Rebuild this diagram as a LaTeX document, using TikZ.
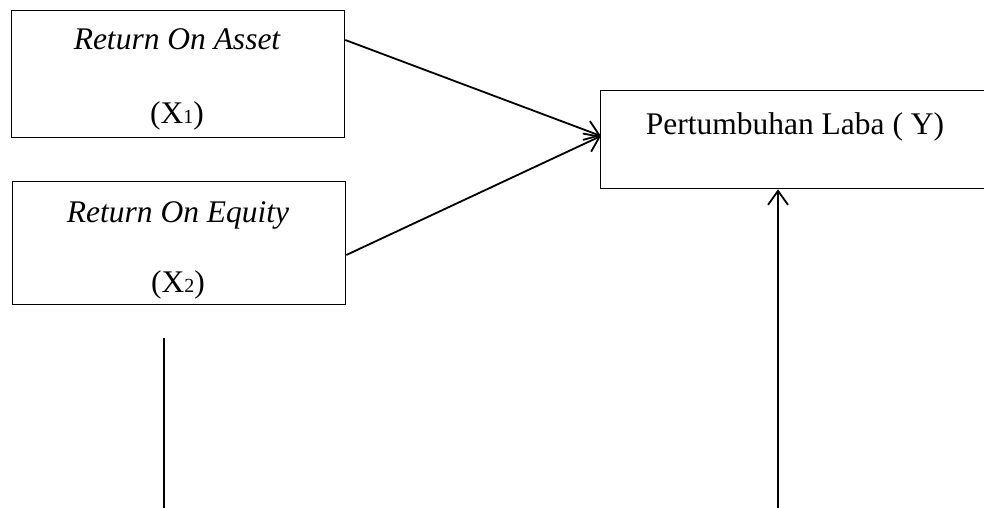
\documentclass[tikz,border=0pt]{standalone}
\usepackage{fontspec}
\setmainfont{Liberation Serif}
\usetikzlibrary{arrows.meta}
\begin{document}
\begin{tikzpicture}[x=1pt,y=-1pt,
  varbox/.style={draw,line width=1.3pt,rectangle,inner sep=0pt,anchor=north west},
  lbl/.style={inner sep=0pt,anchor=base,font=\fontsize{31.5}{31.5}\selectfont},
  idx/.style={},
  link/.style={line width=1.8pt,-{Straight Barb[length=14pt,width=20pt,line width=1.8pt]}}]
  \useasboundingbox (0,0) rectangle (984,508);
  % independent variable boxes
  \node[varbox,minimum width=333pt,minimum height=127pt] (roa) at (11,10) {};
  \node[varbox,minimum width=333pt,minimum height=123pt] (roe) at (12,181) {};
  % dependent variable box, running past the right edge
  \node[varbox,minimum width=440pt,minimum height=98pt] (y) at (600,90) {};
  % labels
  \node[lbl] (roa-name) at (177,50) {\itshape Return On Asset};
  \node[lbl] (roa-sym) at (177,123) {(X{\fontsize{20}{20}\selectfont 1})};
  \node[lbl] (roe-name) at (178,222) {\itshape Return On Equity};
  \node[lbl] (roe-sym) at (178,292) {(X{\fontsize{20}{20}\selectfont 2})};
  \node[lbl] (y-name) at (795,135) {Pertumbuhan Laba ( Y)};
  % connectors
  \coordinate (tip) at (601,136);
  \draw[link] ([yshift=-30pt]roa.north east) -- (tip);
  \draw[link] ([yshift=-74pt]roe.north east) -- (tip);
  \coordinate (left-top) at (164,338);
  \coordinate (left-bot) at (164,508);
  \draw[line width=1.8pt] (left-top) -- (left-bot);
  \coordinate (right-bot) at (778,508);
  \draw[link] (right-bot) -- (right-bot |- y.south);
\end{tikzpicture}
\end{document}
